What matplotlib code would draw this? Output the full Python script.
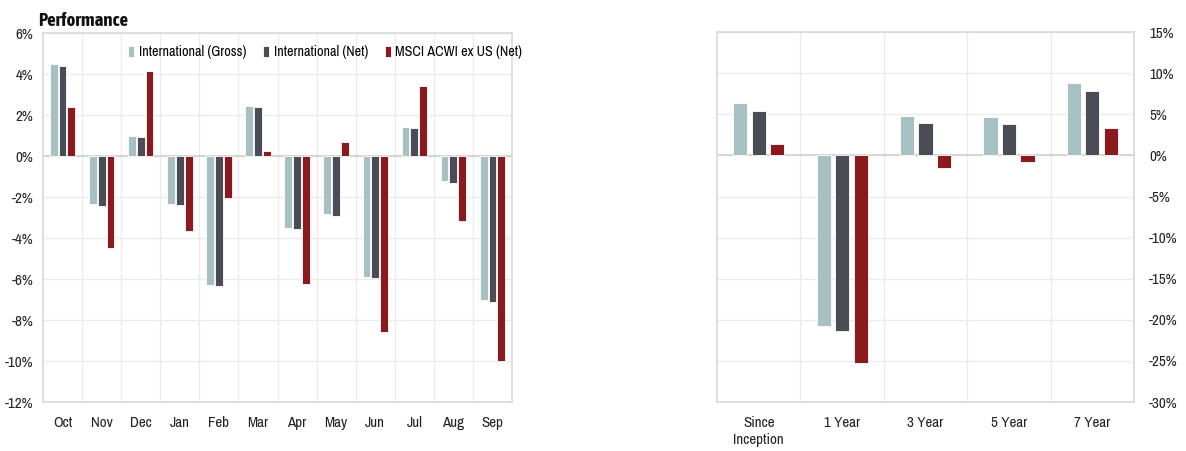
import numpy as np
import matplotlib
matplotlib.use("Agg")
from matplotlib import pyplot as plt
from matplotlib.ticker import FuncFormatter

plt.rcParams['font.family'] = ['Archivo Narrow', 'Liberation Sans', 'DejaVu Sans']

# monthly returns (%)
months = ['Oct', 'Nov', 'Dec', 'Jan', 'Feb', 'Mar', 'Apr', 'May', 'Jun', 'Jul', 'Aug', 'Sep']
intl_gross_m = [4.48, -2.36, 1.00, -2.33, -6.29, 2.44, -3.51, -2.85, -5.90, 1.44, -1.23, -7.04]
intl_net_m = [4.39, -2.44, 0.92, -2.41, -6.36, 2.38, -3.58, -2.93, -5.97, 1.39, -1.31, -7.12]
msci_m = [2.39, -4.49, 4.15, -3.67, -2.03, 0.23, -6.26, 0.70, -8.60, 3.43, -3.19, -9.98]

# period returns (%)
periods = ['Since\nInception', '1 Year', '3 Year', '5 Year', '7 Year']
intl_gross_p = [6.34, -20.7, 4.84, 4.67, 8.82]
intl_net_p = [5.41, -21.4, 3.94, 3.78, 7.85]
msci_p = [1.34, -25.3, -1.50, -0.85, 3.33]

labels = ['International (Gross)', 'International (Net)', 'MSCI ACWI ex US (Net)']
colors = ['#A7C0C3', '#4A4D55', '#8B1A1F']

grid_c = '#EBEBEB'
spine_c = '#D9D9D9'
fs = 10.8

fig = plt.figure(figsize=(11.86, 4.51), dpi=100)
ax1 = fig.add_axes([0.0363, 0.1086, 0.3954, 0.818])
ax2 = fig.add_axes([0.6046, 0.1086, 0.3516, 0.820])


def style(ax, n):
    for s in ax.spines.values():
        s.set_color(spine_c)
        s.set_linewidth(1.2)
    ax.set_xlim(-0.5, n - 0.5)
    for b in np.arange(0.5, n - 0.5, 1):
        ax.axvline(b, color=grid_c, lw=1, zorder=0)
    ax.yaxis.grid(True, color=grid_c, lw=1, zorder=0)
    ax.set_axisbelow(True)
    ax.axhline(0, color='#D0D0D0', lw=1.2, zorder=1)
    ax.tick_params(length=0, labelsize=fs, colors='#222222')
    ax.yaxis.set_major_formatter(FuncFormatter(lambda v, p: f'{v:.0f}%'))


# monthly chart
x = np.arange(len(months))
w, off = 0.2, 0.225
series_m = [intl_gross_m, intl_net_m, msci_m]
for i, vals in enumerate(series_m):
    ax1.bar(x + (i - 1) * off, vals, w, color=colors[i], edgecolor='white',
            linewidth=0.6, label=labels[i], zorder=2)
style(ax1, len(months))
ax1.set_ylim(-12, 6)
ax1.set_yticks(np.arange(-12, 7, 2))
ax1.set_xticks(x)
ax1.set_xticklabels(months)
ax1.tick_params(axis='x', pad=10)
ax1.tick_params(axis='y', pad=7)
ax1.legend(loc='center left', ncol=3, frameon=False, fontsize=10.2,
           handlelength=0.45, handleheight=0.75, handletextpad=0.3,
           columnspacing=1.2, borderaxespad=0, borderpad=0,
           bbox_to_anchor=(0.181, 0.948))

# period chart
x2 = np.arange(len(periods))
w2, off2 = 0.17, 0.222
series_p = [intl_gross_p, intl_net_p, msci_p]
for i, vals in enumerate(series_p):
    ax2.bar(x2 + (i - 1) * off2, vals, w2, color=colors[i], edgecolor='white',
            linewidth=0.6, zorder=2)
style(ax2, len(periods))
ax2.set_ylim(-30, 15)
ax2.set_yticks(np.arange(-30, 16, 5))
ax2.yaxis.tick_right()
ax2.set_xticks(x2)
ax2.set_xticklabels(periods, linespacing=1.25)
ax2.tick_params(axis='x', pad=10)
ax2.tick_params(axis='y', pad=11)

fig.text(0.032, 0.953, 'Performance', fontsize=13.5, fontweight='bold',
         family=['Asap Condensed', 'Archivo Narrow', 'Liberation Sans'],
         color='#111111', va='center')

fig.savefig('out.png', dpi=100)
